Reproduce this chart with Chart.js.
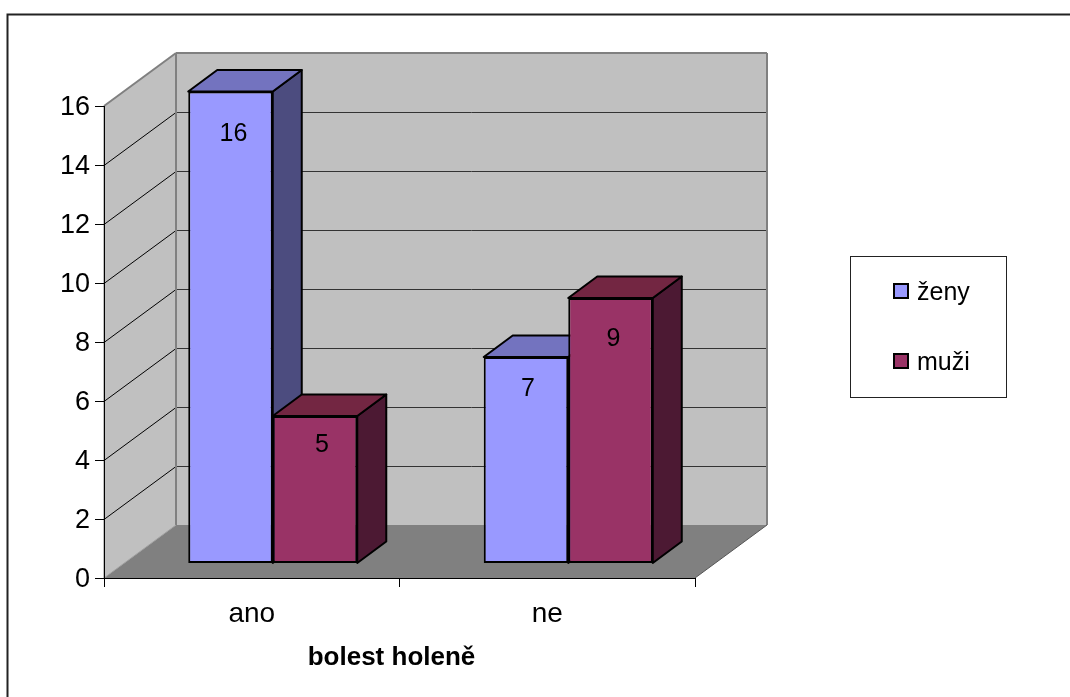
<!DOCTYPE html>
<html>
<head>
<meta charset="utf-8">
<title>bolest holeně</title>
<script src="https://cdn.jsdelivr.net/npm/chart.js@4"></script>
<style>
    html, body { margin: 0; padding: 0; background: #fff; overflow: hidden; }
    canvas { display: block; }
</style>
</head>
<body>
<canvas id="chart" width="1070" height="697"></canvas>
<script>
const categories = ['ano', 'ne'];
const zeny = [16, 7];
const muzi = [5, 9];
const seriesNames = ['ženy', 'muži'];
const tickMax = 16;
const tickStep = 2;
const xAxisTitle = 'bolest holeně';

const FONT = '"Liberation Sans", Arial, sans-serif';

// how far the back wall sits behind the front plane of the axes
const wallDepth = { x: 72, y: -53 };
// bars stand a little way into the floor and have their own depth
const barShift = { x: 21, y: -14.5 };
const barDepth = { x: 29, y: -21.5 };

// hand placed value labels, [series][category], relative to the bar top centre
const labelNudge = [
    [{ x: 3, y: 43 }, { x: 2, y: 32 }],
    [{ x: 7, y: 29 }, { x: 3, y: 41 }]
];

const seriesColors = [
    { front: '#9999FF', side: '#4C4C7F', top: '#7373BF' },
    { front: '#993366', side: '#4C1933', top: '#732642' }
];

function poly(ctx, points, fill, stroke, lineWidth) {
    ctx.beginPath();
    points.forEach((p, i) => i ? ctx.lineTo(p[0], p[1]) : ctx.moveTo(p[0], p[1]));
    ctx.closePath();
    if (fill) {
        ctx.fillStyle = fill;
        ctx.fill();
    }
    if (stroke) {
        ctx.strokeStyle = stroke;
        ctx.lineWidth = lineWidth;
        ctx.stroke();
    }
}

function line(ctx, x1, y1, x2, y2, color, width) {
    ctx.beginPath();
    ctx.moveTo(x1, y1);
    ctx.lineTo(x2, y2);
    ctx.strokeStyle = color;
    ctx.lineWidth = width;
    ctx.stroke();
}

// walls, floor, outer frame and depth gridlines, all hung off the axes
const roomPlugin = {
    id: 'room',
    beforeDraw(chart) {
        const ctx = chart.ctx;
        const { left, right, top, bottom } = chart.chartArea;
        const dx = wallDepth.x;
        const dy = wallDepth.y;

        ctx.save();
        poly(ctx, [[left, top], [left + dx, top + dy], [left + dx, bottom + dy], [left, bottom]], '#C0C0C0');
        poly(ctx, [[left + dx, top + dy], [right + dx, top + dy], [right + dx, bottom + dy], [left + dx, bottom + dy]], '#C0C0C0');
        poly(ctx, [[left, bottom], [left + dx, bottom + dy], [right + dx, bottom + dy], [right, bottom]], '#808080');

        chart.scales.y.ticks.forEach(tick => {
            if (tick.value === 0 || tick.value === tickMax) return;
            const y = Math.round(chart.scales.y.getPixelForValue(tick.value)) + 0.5;
            line(ctx, left, y, left + dx, y + dy, '#000', 1);
            line(ctx, left + dx, y + dy, right + dx, y + dy, '#333', 1);
        });

        // wall edges
        line(ctx, left, top, left + dx, top + dy, '#808080', 2);
        line(ctx, left + dx, top + dy, right + dx, top + dy, '#808080', 2);
        line(ctx, left + dx, top + dy, left + dx, bottom + dy, '#808080', 2);
        line(ctx, right + dx, top + dy, right + dx, bottom + dy, '#808080', 2);
        line(ctx, left, top, left, bottom, '#808080', 1);
        line(ctx, left, bottom, left + dx, bottom + dy, '#A0A0A0', 1);
        line(ctx, right, bottom, right + dx, bottom + dy, '#555', 1);

        ctx.lineWidth = 2;
        ctx.strokeStyle = '#222';
        ctx.strokeRect(7.5, 14.5, 1200, 800);
        ctx.restore();
    }
};

// bars are painted left to right so the next bar covers the previous one's side
const barsPlugin = {
    id: 'bars3d',
    beforeDatasetsDraw(chart) {
        const ctx = chart.ctx;
        const metas = chart.data.datasets.map((d, i) => chart.getDatasetMeta(i));

        ctx.save();
        ctx.lineJoin = 'round';
        metas.forEach((meta, s) => {
            const colors = seriesColors[s];
            meta.data.forEach(bar => {
                const x1 = bar.x - bar.width / 2 + barShift.x;
                const x2 = bar.x + bar.width / 2 + barShift.x;
                const yTop = bar.y + barShift.y;
                const yBase = bar.base + barShift.y;
                poly(ctx, [[x2, yTop], [x2 + barDepth.x, yTop + barDepth.y], [x2 + barDepth.x, yBase + barDepth.y], [x2, yBase]], colors.side, '#000', 2);
                poly(ctx, [[x1, yTop], [x1 + barDepth.x, yTop + barDepth.y], [x2 + barDepth.x, yTop + barDepth.y], [x2, yTop]], colors.top, '#000', 2);
                ctx.save();
                ctx.translate(barShift.x, barShift.y);
                bar.draw(ctx);
                ctx.restore();
            });
        });

        ctx.fillStyle = '#000';
        ctx.font = '25px ' + FONT;
        ctx.textAlign = 'center';
        ctx.textBaseline = 'middle';
        metas.forEach((meta, s) => {
            meta.data.forEach((bar, c) => {
                const nudge = labelNudge[s][c];
                const value = chart.data.datasets[s].data[c];
                ctx.fillText(String(value), bar.x + barShift.x + nudge.x, bar.y + barShift.y + nudge.y);
            });
        });
        ctx.restore();
        return false;
    }
};

// boxed legend on the right and the axis title under the categories
const annotationPlugin = {
    id: 'legendBox',
    afterDraw(chart) {
        const ctx = chart.ctx;
        ctx.save();
        ctx.fillStyle = '#fff';
        ctx.fillRect(850.5, 256.5, 156, 141);
        ctx.strokeStyle = '#222';
        ctx.lineWidth = 1;
        ctx.strokeRect(850.5, 256.5, 156, 141);

        const rowY = [291, 361];
        chart.data.datasets.forEach((dataset, i) => {
            ctx.fillStyle = dataset.backgroundColor;
            ctx.fillRect(894, rowY[i] - 7, 14, 14);
            ctx.strokeStyle = '#000';
            ctx.lineWidth = 2;
            ctx.strokeRect(894, rowY[i] - 7, 14, 14);
            ctx.fillStyle = '#000';
            ctx.font = '25px ' + FONT;
            ctx.textAlign = 'left';
            ctx.textBaseline = 'middle';
            ctx.fillText(dataset.label, 917, rowY[i] + 2);
        });

        ctx.font = 'bold 26px ' + FONT;
        ctx.textAlign = 'center';
        ctx.textBaseline = 'middle';
        ctx.fillText(xAxisTitle, 391.5, 658);
        ctx.restore();
    }
};

new Chart(document.getElementById('chart'), {
    type: 'bar',
    data: {
        labels: categories,
        datasets: [{
            label: seriesNames[0],
            data: zeny,
            backgroundColor: seriesColors[0].front,
            borderColor: '#000',
            borderWidth: 2,
            borderSkipped: false
        }, {
            label: seriesNames[1],
            data: muzi,
            backgroundColor: seriesColors[1].front,
            borderColor: '#000',
            borderWidth: 2,
            borderSkipped: false
        }]
    },
    options: {
        responsive: false,
        animation: false,
        categoryPercentage: 0.572,
        barPercentage: 1,
        layout: { padding: { left: 0, top: 106, right: 375, bottom: 0 } },
        plugins: {
            legend: { display: false },
            title: { display: false },
            tooltip: { enabled: false }
        },
        scales: {
            x: {
                afterFit(scale) { scale.height = 119; },
                grid: { drawOnChartArea: false, tickLength: 9, color: '#000' },
                border: { color: '#000', width: 1 },
                ticks: { color: '#000', font: { family: FONT, size: 28 }, padding: 10, maxRotation: 0 }
            },
            y: {
                min: 0,
                max: tickMax,
                afterFit(scale) { scale.width = 104; },
                grid: { drawOnChartArea: false, tickLength: 9, color: '#000' },
                border: { color: '#000', width: 1 },
                ticks: { stepSize: tickStep, color: '#000', font: { family: FONT, size: 27 }, padding: 5, labelOffset: 2 }
            }
        }
    },
    plugins: [roomPlugin, barsPlugin, annotationPlugin]
});
</script>
</body>
</html>
